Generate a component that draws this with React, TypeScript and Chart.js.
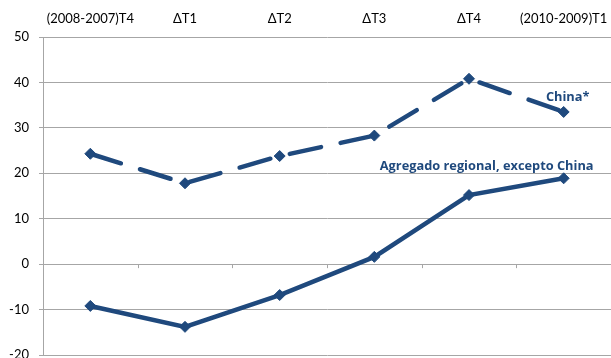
import { useEffect, useRef } from "react";
import { Chart, registerables } from "chart.js";

Chart.register(...registerables);

// Quarterly year-on-year changes (%)
const categories = ["(2008-2007)T4", "ΔT1", "ΔT2", "ΔT3", "ΔT4", "(2010-2009)T1"];
const chinaValues = [24.3, 17.8, 23.8, 28.3, 40.8, 33.5];
const regionalValues = [-9.2, -13.8, -6.8, 1.6, 15.2, 18.9];
const seriesNames = ["China*", "Agregado regional, excepto China"];
const yMin = -20;
const yMax = 50;
const yStep = 10;

const BLUE = "#1F497D";
const GRID = "#A6A6A6";
const FONT = "Lato, 'Liberation Sans', sans-serif";
const LABEL_FONT = "'Open Sans', 'Liberation Sans', sans-serif";

// Series names written beside the last point of each line
const seriesLabelPlugin = {
  id: "seriesLabels",
  afterDatasetsDraw(chart: any) {
    const ctx = chart.ctx;
    ctx.save();
    ctx.fillStyle = BLUE;
    ctx.font = `bold 12.8px ${LABEL_FONT}`;
    ctx.textBaseline = "middle";
    ctx.textAlign = "center";

    const chinaMeta = chart.getDatasetMeta(0);
    const cLast = chinaMeta.data[chinaMeta.data.length - 1];
    ctx.fillText(seriesNames[0], cLast.x + 4, cLast.y - 14.5);

    const regMeta = chart.getDatasetMeta(1);
    const rLast = regMeta.data[regMeta.data.length - 1];
    ctx.fillText(seriesNames[1], rLast.x - 77, rLast.y - 12.3);
    ctx.restore();
  },
};

// Category boundary tick marks hanging below the zero line
const zeroAxisTicksPlugin = {
  id: "zeroAxisTicks",
  beforeDatasetsDraw(chart: any) {
    const { ctx, scales } = chart;
    const x = scales.x;
    const y0 = scales.y.getPixelForValue(0);
    ctx.save();
    ctx.strokeStyle = GRID;
    ctx.lineWidth = 1;
    ctx.beginPath();
    for (let i = 0; i < categories.length - 1; i++) {
      const bx = Math.round((x.getPixelForValue(i) + x.getPixelForValue(i + 1)) / 2) + 0.5;
      ctx.moveTo(bx, y0);
      ctx.lineTo(bx, y0 + 4);
    }
    ctx.stroke();
    ctx.restore();
  },
};

export default function App() {
  const canvasRef = useRef<HTMLCanvasElement | null>(null);

  useEffect(() => {
    const canvas = canvasRef.current;
    if (!canvas) return;
    const lineStyle = {
      borderColor: BLUE,
      backgroundColor: BLUE,
      borderWidth: 4.5,
      borderCapStyle: "round" as const,
      pointStyle: "rectRot" as const,
      pointRadius: 5.5,
      pointBorderWidth: 1,
      pointBackgroundColor: BLUE,
      pointBorderColor: BLUE,
      tension: 0,
    };
    const chart = new Chart(canvas, {
      type: "line",
      data: {
        labels: categories,
        datasets: [
          { label: seriesNames[0], data: chinaValues, borderDash: [32, 20], ...lineStyle },
          { label: seriesNames[1], data: regionalValues, ...lineStyle },
        ],
      },
      options: {
        responsive: false,
        animation: false,
        layout: { autoPadding: false, padding: { left: 0, right: -1, top: 0, bottom: 3 } },
        plugins: {
          legend: { display: false },
          tooltip: { enabled: false },
        },
        scales: {
          x: {
            type: "category",
            position: "top",
            offset: true,
            grid: { display: false, drawTicks: false },
            border: { display: false },
            ticks: {
              color: "#000",
              font: { family: FONT, size: 13 },
              padding: 10,
              maxRotation: 0,
              autoSkip: false,
            },
            afterFit(scale: any) {
              scale.height = 37;
              scale.paddingLeft = 0;
              scale.paddingRight = 0;
            },
          },
          y: {
            min: yMin,
            max: yMax,
            ticks: {
              stepSize: yStep,
              color: "#000",
              font: { family: FONT, size: 13 },
              padding: 10,
            },
            grid: { color: GRID, lineWidth: 1, drawTicks: true, tickLength: 4 },
            border: { display: true, color: GRID, width: 1 },
            afterFit(scale: any) {
              scale.width = 43;
              scale.paddingTop = 0;
              scale.paddingBottom = 0;
            },
          },
        },
      },
      plugins: [zeroAxisTicksPlugin, seriesLabelPlugin],
    });
    return () => chart.destroy();
  }, []);

  return (
    <div style={{ position: "absolute", left: 0, top: 0, width: 611, height: 358, background: "#fff" }}>
      <canvas ref={canvasRef} width={611} height={358} style={{ display: "block" }} />
    </div>
  );
}
